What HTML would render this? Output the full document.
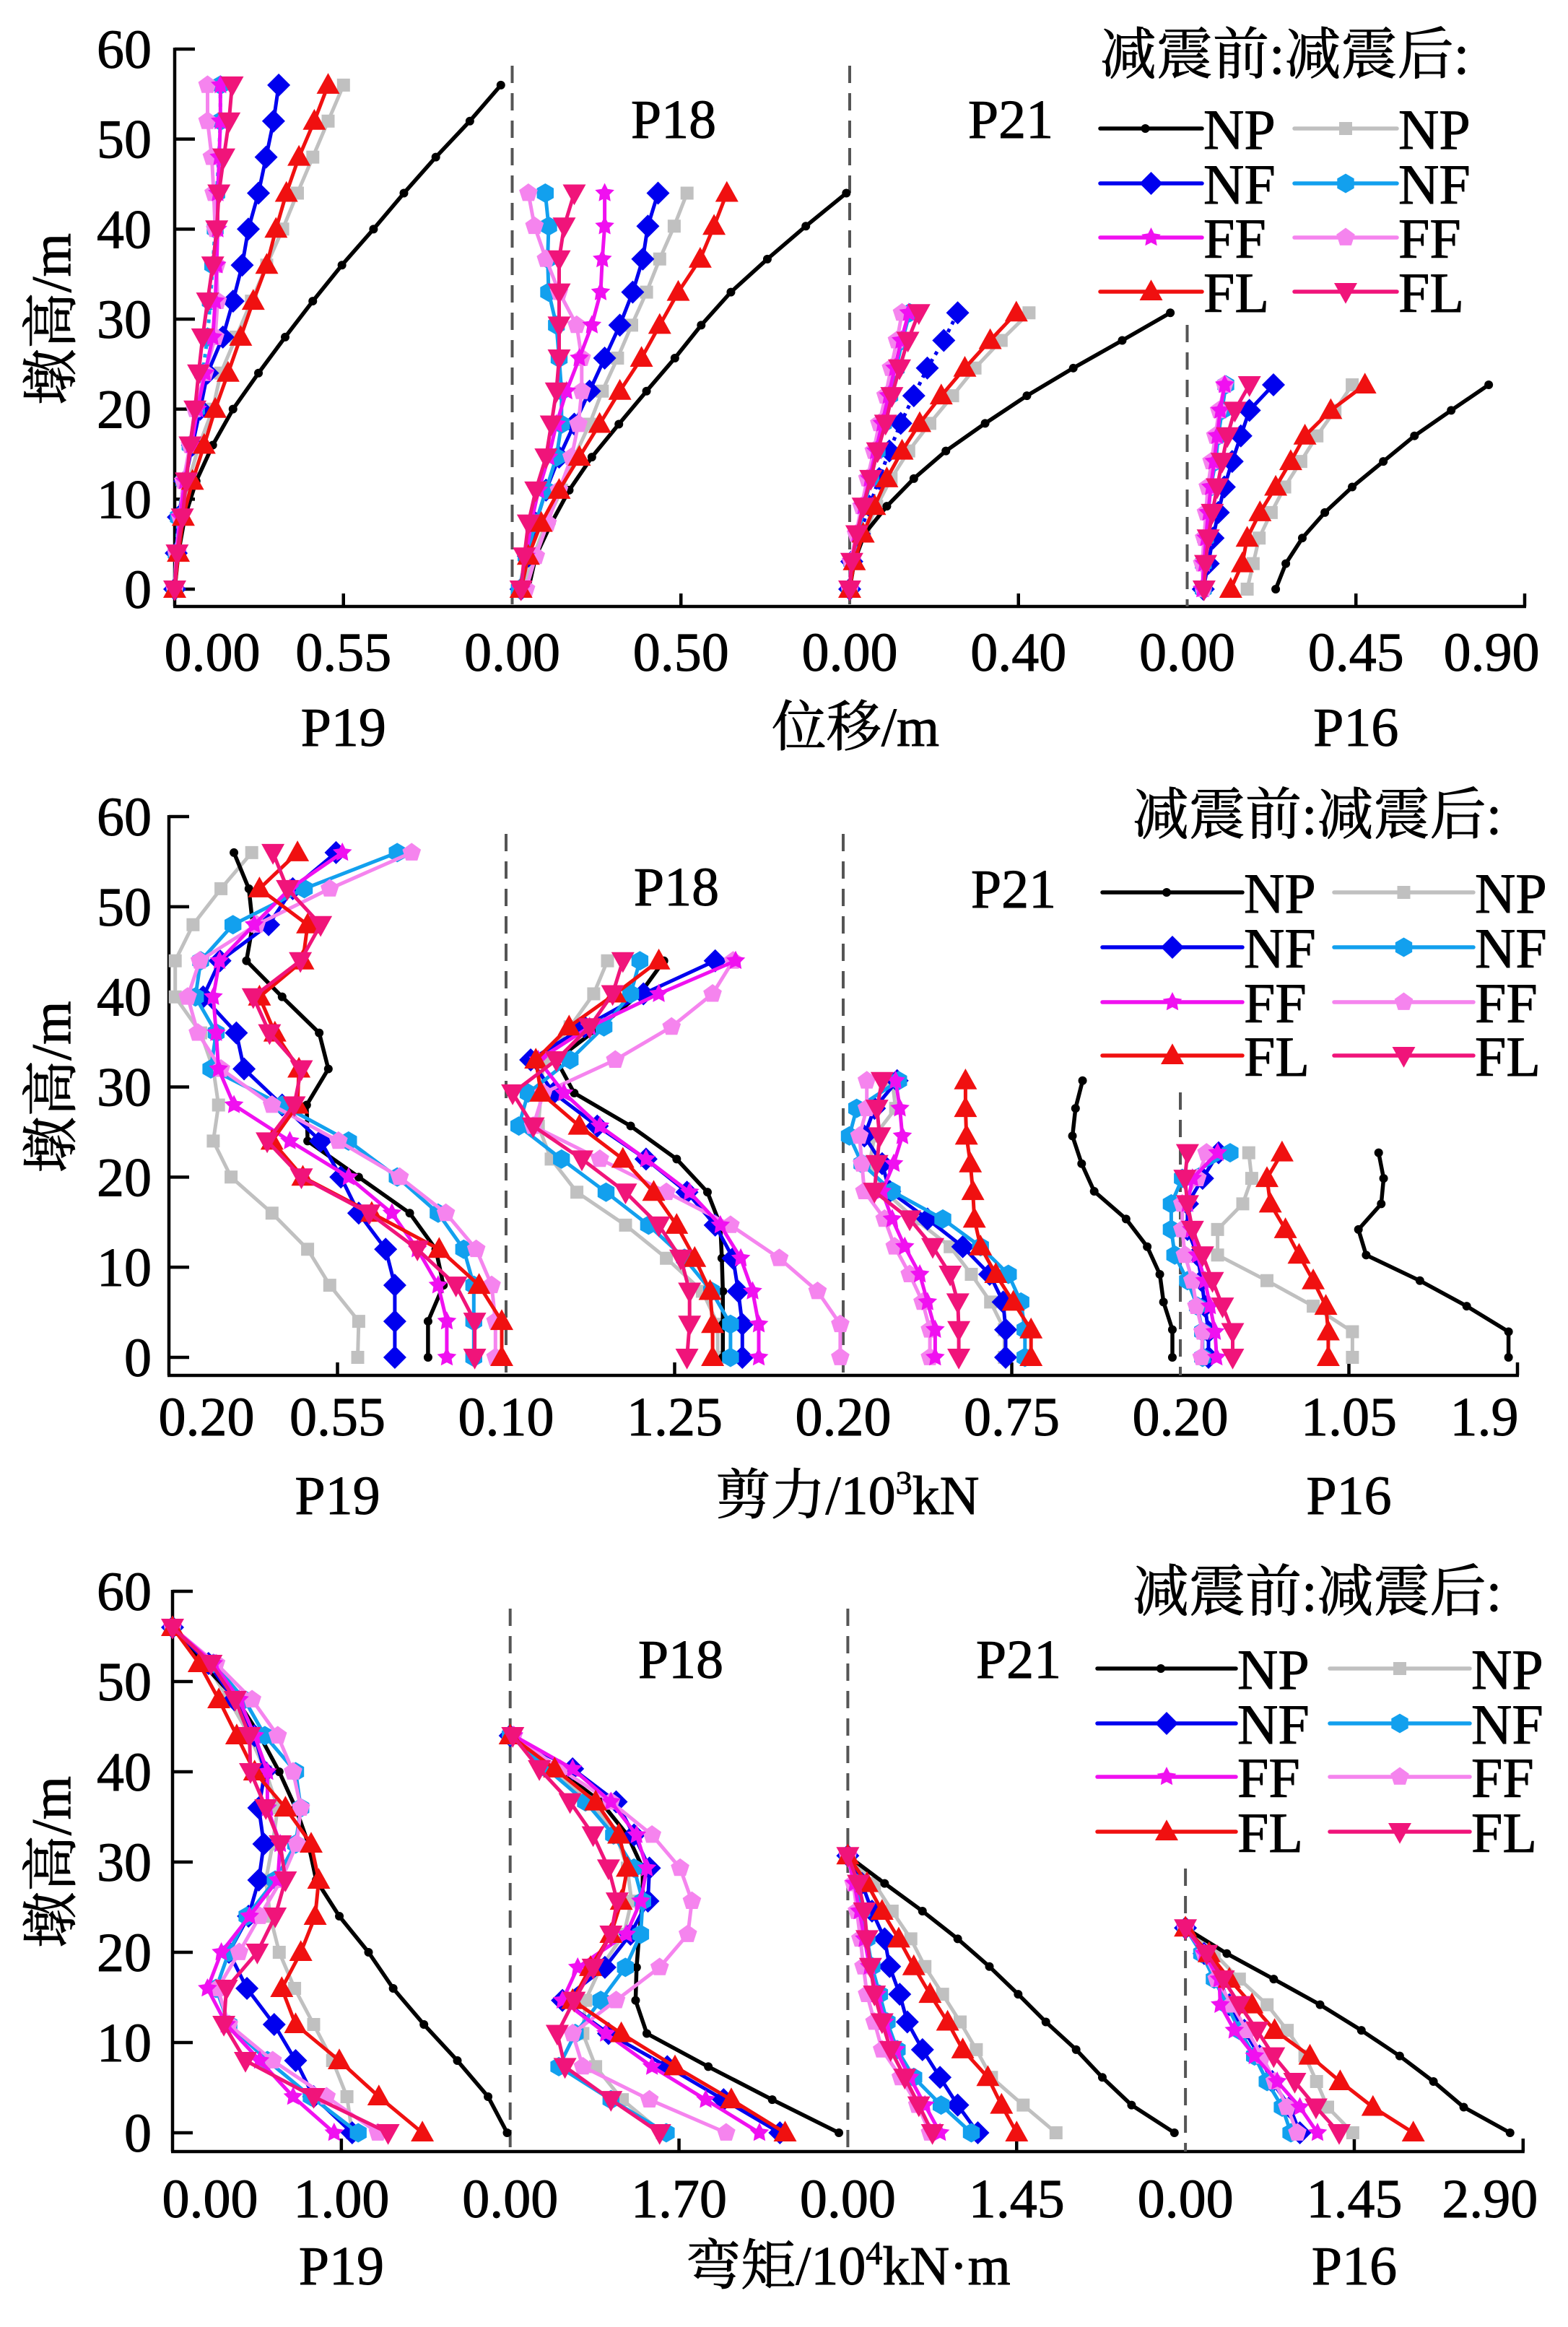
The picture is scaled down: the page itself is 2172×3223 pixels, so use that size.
<!DOCTYPE html>
<html><head><meta charset="utf-8"><title>Pier response profiles</title>
<style>
html,body{margin:0;padding:0;background:#fff;}
svg{display:block;}
text{font-family:"Liberation Serif","Noto Serif CJK SC",serif;fill:#000;stroke:#000;stroke-width:0.9px;}
</style></head>
<body>
<svg id="chart" xmlns="http://www.w3.org/2000/svg" width="2172" height="3223" viewBox="0 0 2172 3223"></svg>
<script>
// ---------- heights (m) ----------
const H19=[0,4,8,12,16,20,24,28,32,36,40,44,48,52,56];
const H18=[0,3.67,7.33,11,14.67,18.33,22,25.67,29.33,33,36.67,40.33,44];
const H21=[0,3.07,6.14,9.21,12.28,15.35,18.42,21.49,24.56,27.63,30.7];
const H16=[0,2.84,5.68,8.51,11.35,14.19,17.03,19.86,22.7];
const piers=['P19','P18','P21','P16'];
const seriesKeys=['NPa','NP','NF','NFa','FFa','FF','FL','FLa'];
const legendLabels=['NP','NF','FF','FL'];

// ---------- displacement (m) ----------
const dP19_NP=[0,0.012,0.033,0.07,0.124,0.19,0.273,0.36,0.45,0.545,0.648,0.747,0.851,0.962,1.063];
const dP19_NPa=[0,0.012,0.025,0.045,0.08,0.124,0.15,0.2,0.25,0.30,0.352,0.40,0.45,0.50,0.55];
const dP19_NF=[0,0.005,0.012,0.033,0.058,0.083,0.107,0.157,0.19,0.22,0.24,0.273,0.298,0.322,0.339];
const dP19_NFa=[0,0.005,0.012,0.03,0.05,0.071,0.091,0.107,0.116,0.124,0.132,0.137,0.144,0.149,0.149];
const dP19_FF=[0,0.008,0.017,0.033,0.055,0.074,0.099,0.124,0.132,0.137,0.14,0.14,0.145,0.149,0.149];
const dP19_FFa=[0,0.005,0.017,0.028,0.05,0.066,0.099,0.132,0.14,0.137,0.132,0.127,0.121,0.107,0.107];
const dP19_FL=[0,0.012,0.028,0.058,0.096,0.132,0.174,0.215,0.256,0.30,0.33,0.364,0.405,0.455,0.50];
const dP19_FLa=[0,0.008,0.025,0.038,0.05,0.066,0.078,0.091,0.107,0.124,0.137,0.144,0.16,0.177,0.187];
const dP18_NP=[0.048,0.07,0.116,0.169,0.236,0.316,0.398,0.482,0.56,0.648,0.756,0.87,0.99];
const dP18_NPa=[0.033,0.063,0.1,0.146,0.184,0.229,0.267,0.312,0.354,0.398,0.437,0.48,0.518];
const dP18_NF=[0.026,0.048,0.07,0.1,0.139,0.184,0.229,0.274,0.319,0.357,0.387,0.402,0.432];
const dP18_NFa=[0.021,0.041,0.07,0.1,0.131,0.146,0.146,0.139,0.131,0.108,0.105,0.108,0.098];
const dP18_FF=[0.026,0.041,0.056,0.078,0.108,0.131,0.161,0.199,0.236,0.262,0.267,0.274,0.274];
const dP18_FFa=[0.041,0.07,0.105,0.139,0.176,0.196,0.206,0.206,0.191,0.139,0.1,0.066,0.048];
const dP18_FL=[0.026,0.048,0.086,0.139,0.199,0.259,0.319,0.383,0.437,0.492,0.557,0.598,0.636];
const dP18_FLa=[0.026,0.036,0.048,0.07,0.1,0.116,0.131,0.139,0.139,0.139,0.139,0.154,0.184];
const dP21_NP=[0,0.011,0.035,0.088,0.152,0.228,0.321,0.42,0.53,0.646,0.76];
const dP21_NPa=[0,0.011,0.035,0.064,0.098,0.14,0.19,0.244,0.297,0.359,0.425];
const dP21_NF=[0,0.005,0.023,0.047,0.07,0.094,0.121,0.152,0.184,0.223,0.256];
const dP21_NFa=[0,0.005,0.02,0.035,0.05,0.065,0.08,0.095,0.11,0.125,0.142];
const dP21_FF=[0,0.005,0.018,0.032,0.047,0.062,0.077,0.092,0.107,0.122,0.14];
const dP21_FFa=[0,0.003,0.015,0.028,0.042,0.057,0.07,0.085,0.098,0.112,0.124];
const dP21_FL=[0,0.011,0.032,0.059,0.088,0.124,0.166,0.217,0.273,0.333,0.395];
const dP21_FLa=[0,0.005,0.017,0.032,0.05,0.066,0.085,0.1,0.118,0.138,0.164];
const dP16_NP=[0.236,0.263,0.307,0.367,0.44,0.523,0.606,0.704,0.804];
const dP16_NPa=[0.16,0.176,0.192,0.224,0.26,0.303,0.346,0.394,0.44];
const dP16_NF=[0.043,0.056,0.069,0.083,0.099,0.12,0.143,0.166,0.23];
const dP16_NFa=[0.043,0.043,0.049,0.056,0.063,0.076,0.083,0.093,0.103];
const dP16_FF=[0.04,0.045,0.05,0.056,0.063,0.072,0.08,0.088,0.1];
const dP16_FFa=[0.043,0.04,0.045,0.05,0.055,0.065,0.075,0.085,0.1];
const dP16_FL=[0.116,0.147,0.16,0.194,0.236,0.276,0.314,0.383,0.474];
const dP16_FLa=[0.045,0.049,0.056,0.067,0.08,0.093,0.107,0.127,0.166];

// ---------- shear (10^3 kN) ----------
const sP19_NP=[0.738,0.738,0.77,0.754,0.70,0.594,0.488,0.486,0.531,0.512,0.435,0.361,0.374,0.366,0.335];
const sP19_NPa=[0.592,0.594,0.534,0.488,0.414,0.329,0.292,0.303,0.292,0.266,0.213,0.213,0.25,0.308,0.372];
const sP19_NF=[0.669,0.669,0.669,0.65,0.594,0.557,0.515,0.435,0.356,0.34,0.271,0.306,0.407,0.457,0.547];
const sP19_NFa=[0.833,0.833,0.833,0.812,0.759,0.674,0.573,0.435,0.287,0.298,0.255,0.266,0.333,0.481,0.674];
const sP19_FF=[0.777,0.777,0.759,0.716,0.663,0.573,0.451,0.335,0.303,0.298,0.292,0.305,0.377,0.451,0.56];
const sP19_FFa=[0.878,0.878,0.87,0.838,0.775,0.679,0.552,0.414,0.308,0.26,0.239,0.264,0.382,0.534,0.704];
const sP19_FL=[0.891,0.891,0.844,0.761,0.621,0.478,0.414,0.467,0.47,0.42,0.388,0.478,0.488,0.388,0.467];
const sP19_FLa=[0.835,0.835,0.796,0.716,0.616,0.475,0.404,0.46,0.475,0.409,0.375,0.473,0.515,0.446,0.416];
const sP18_NP=[1.579,1.579,1.579,1.572,1.562,1.474,1.264,0.95,0.565,0.443,0.74,1.013,1.177];
const sP18_NPa=[1.544,1.544,1.439,1.194,0.915,0.583,0.408,0.32,0.338,0.355,0.537,0.698,0.792];
const sP18_NF=[1.712,1.712,1.684,1.649,1.527,1.334,1.055,0.722,0.425,0.268,0.635,1.037,1.527];
const sP18_NFa=[1.631,1.631,1.502,1.317,1.072,0.782,0.478,0.187,0.25,0.537,0.768,0.95,1.013];
const sP18_FF=[1.824,1.824,1.782,1.701,1.562,1.352,1.055,0.74,0.495,0.32,0.67,1.142,1.666];
const sP18_FFa=[2.38,2.38,2.225,1.964,1.631,1.194,0.74,0.285,0.355,0.845,1.229,1.509,1.649];
const sP18_FL=[1.509,1.509,1.492,1.387,1.264,1.107,0.897,0.6,0.338,0.303,0.53,0.845,1.142];
const sP18_FLa=[1.334,1.352,1.352,1.292,1.142,0.915,0.617,0.285,0.145,0.443,0.67,0.827,0.897];
const sP21_NP=[1.274,1.274,1.245,1.233,1.192,1.123,1.019,0.978,0.948,0.958,0.981];
const sP21_NPa=[0.726,0.726,0.681,0.618,0.549,0.434,0.335,0.286,0.302,0.371,0.36];
const sP21_NF=[0.73,0.73,0.722,0.678,0.59,0.475,0.352,0.327,0.269,0.302,0.376];
const sP21_NFa=[0.793,0.793,0.78,0.739,0.648,0.525,0.36,0.261,0.22,0.244,0.381];
const sP21_FF=[0.5,0.5,0.475,0.45,0.401,0.36,0.327,0.365,0.393,0.385,0.371];
const sP21_FFa=[0.483,0.483,0.459,0.417,0.368,0.335,0.269,0.261,0.253,0.277,0.277];
const sP21_FL=[0.813,0.813,0.755,0.698,0.648,0.628,0.623,0.615,0.602,0.599,0.599];
const sP21_FLa=[0.577,0.577,0.574,0.549,0.492,0.417,0.302,0.31,0.319,0.31,0.327];
const sP16_NP=[1.855,1.855,1.644,1.408,1.137,1.098,1.213,1.225,1.2];
const sP16_NPa=[1.068,1.068,0.87,0.637,0.388,0.388,0.515,0.56,0.545];
const sP16_NF=[0.342,0.342,0.324,0.307,0.286,0.236,0.236,0.312,0.393];
const sP16_NFa=[0.312,0.312,0.286,0.236,0.172,0.154,0.154,0.21,0.451];
const sP16_FF=[0.383,0.375,0.35,0.324,0.286,0.256,0.236,0.261,0.388];
const sP16_FFa=[0.307,0.312,0.281,0.261,0.223,0.21,0.21,0.286,0.332];
const sP16_FL=[0.946,0.946,0.934,0.87,0.799,0.73,0.654,0.637,0.713];
const sP16_FLa=[0.464,0.464,0.413,0.362,0.312,0.261,0.236,0.223,0.236];

// ---------- moment (10^4 kN·m) ----------
const mP19_NP=[1.982,1.869,1.687,1.489,1.307,1.161,0.988,0.851,0.805,0.729,0.632,0.517,0.38,0.176,0];
const mP19_NPa=[1.064,1.033,0.948,0.836,0.723,0.632,0.578,0.553,0.593,0.623,0.553,0.456,0.334,0.198,0];
const mP19_NF=[1.064,0.836,0.729,0.602,0.441,0.334,0.45,0.511,0.541,0.511,0.547,0.486,0.365,0.213,0];
const mP19_NFa=[1.1,0.821,0.562,0.334,0.258,0.334,0.441,0.608,0.729,0.76,0.729,0.547,0.426,0.243,0];
const mP19_FF=[0.957,0.714,0.517,0.319,0.207,0.289,0.456,0.623,0.638,0.562,0.562,0.486,0.395,0.243,0];
const mP19_FFa=[1.216,0.912,0.593,0.334,0.267,0.395,0.517,0.644,0.736,0.76,0.714,0.623,0.471,0.258,0];
const mP19_FL=[1.48,1.222,0.988,0.729,0.647,0.76,0.845,0.866,0.821,0.669,0.486,0.38,0.274,0.158,0];
const mP19_FLa=[1.277,0.836,0.432,0.304,0.319,0.502,0.608,0.669,0.638,0.553,0.462,0.456,0.371,0.228,0];
const mP18_NP=[3.31,2.639,1.995,1.376,1.263,1.273,1.299,1.335,1.335,1.18,0.912,0.474,0];
const mP18_NPa=[1.531,1.129,0.861,0.732,0.758,0.912,1.144,1.222,1.18,1.067,0.809,0.423,0];
const mP18_NF=[2.716,2.149,1.582,0.99,0.526,0.954,1.211,1.387,1.402,1.247,1.067,0.629,0];
const mP18_NFa=[1.572,1.015,0.49,0.655,0.912,1.16,1.314,1.335,1.247,1.041,0.758,0.371,0];
const mP18_FF=[2.51,1.969,1.428,0.964,0.526,0.68,1.17,1.314,1.376,1.273,1.015,0.629,0.036];
const mP18_FFa=[2.175,1.402,0.732,0.629,1.067,1.505,1.789,1.83,1.711,1.428,1.015,0.5,0.036];
const mP18_FL=[2.768,2.227,1.66,1.119,0.629,0.809,1.015,1.119,1.18,1.093,0.861,0.448,0];
const mP18_FLa=[1.505,1.015,0.552,0.474,0.644,0.835,1.015,1.077,0.99,0.835,0.603,0.294,0.026];
const mP21_NP=[2.805,2.437,2.186,1.961,1.701,1.463,1.216,0.944,0.641,0.316,0];
const mP21_NPa=[1.788,1.506,1.234,1.104,0.965,0.814,0.662,0.541,0.381,0.229,0];
const mP21_NF=[1.117,0.944,0.792,0.641,0.511,0.446,0.359,0.316,0.208,0.121,0];
const mP21_NFa=[1.061,0.801,0.567,0.424,0.338,0.273,0.208,0.165,0.121,0.078,0];
const mP21_FF=[0.792,0.662,0.532,0.411,0.316,0.251,0.186,0.143,0.1,0.056,0];
const mP21_FFa=[0.706,0.597,0.455,0.294,0.229,0.165,0.134,0.108,0.078,0.048,0];
const mP21_FL=[1.45,1.32,1.203,0.987,0.857,0.706,0.567,0.437,0.294,0.165,0];
const mP21_FLa=[0.727,0.61,0.489,0.368,0.294,0.229,0.195,0.165,0.143,0.091,0];
const mP16_NP=[2.788,2.39,2.13,1.84,1.511,1.156,0.758,0.355,0];
const mP16_NPa=[1.437,1.221,1.126,1.026,0.874,0.701,0.463,0.247,0];
const mP16_NF=[0.983,0.896,0.745,0.636,0.506,0.377,0.29,0.16,0];
const mP16_NFa=[0.905,0.831,0.701,0.593,0.463,0.355,0.247,0.139,0];
const mP16_FF=[1.134,0.983,0.788,0.593,0.42,0.299,0.29,0.16,0];
const mP16_FFa=[0.961,0.874,0.766,0.658,0.528,0.398,0.268,0.16,0];
const mP16_FL=[1.957,1.61,1.329,1.069,0.766,0.571,0.377,0.203,0];
const mP16_FLa=[1.32,1.121,0.939,0.758,0.615,0.463,0.325,0.182,0];

// ---------- axis tick labels ----------
const dispTicks=['0.00','0.55','0.00','0.50','0.00','0.40','0.00','0.45','0.90'];
const shearTicks=['0.20','0.55','0.10','1.25','0.20','0.75','0.20','1.05','1.9'];
const momentTicks=['0.00','1.00','0.00','1.70','0.00','1.45','0.00','1.45','2.90'];
const dispRanges=[[0,1.1],[0,1.0],[0,0.8],[0,0.9]];
const shearRanges=[[0.2,0.9],[0.1,2.4],[0.2,1.3],[0.2,1.9]];
const momentRanges=[[0,2.0],[0,3.4],[0,2.9],[0,2.9]];
const yTicks=[0,10,20,30,40,50,60];

const heightsByPier={P19:H19,P18:H18,P21:H21,P16:H16};
const store={
 d:{P19:{NP:dP19_NP,NPa:dP19_NPa,NF:dP19_NF,NFa:dP19_NFa,FF:dP19_FF,FFa:dP19_FFa,FL:dP19_FL,FLa:dP19_FLa},
    P18:{NP:dP18_NP,NPa:dP18_NPa,NF:dP18_NF,NFa:dP18_NFa,FF:dP18_FF,FFa:dP18_FFa,FL:dP18_FL,FLa:dP18_FLa},
    P21:{NP:dP21_NP,NPa:dP21_NPa,NF:dP21_NF,NFa:dP21_NFa,FF:dP21_FF,FFa:dP21_FFa,FL:dP21_FL,FLa:dP21_FLa},
    P16:{NP:dP16_NP,NPa:dP16_NPa,NF:dP16_NF,NFa:dP16_NFa,FF:dP16_FF,FFa:dP16_FFa,FL:dP16_FL,FLa:dP16_FLa}},
 s:{P19:{NP:sP19_NP,NPa:sP19_NPa,NF:sP19_NF,NFa:sP19_NFa,FF:sP19_FF,FFa:sP19_FFa,FL:sP19_FL,FLa:sP19_FLa},
    P18:{NP:sP18_NP,NPa:sP18_NPa,NF:sP18_NF,NFa:sP18_NFa,FF:sP18_FF,FFa:sP18_FFa,FL:sP18_FL,FLa:sP18_FLa},
    P21:{NP:sP21_NP,NPa:sP21_NPa,NF:sP21_NF,NFa:sP21_NFa,FF:sP21_FF,FFa:sP21_FFa,FL:sP21_FL,FLa:sP21_FLa},
    P16:{NP:sP16_NP,NPa:sP16_NPa,NF:sP16_NF,NFa:sP16_NFa,FF:sP16_FF,FFa:sP16_FFa,FL:sP16_FL,FLa:sP16_FLa}},
 m:{P19:{NP:mP19_NP,NPa:mP19_NPa,NF:mP19_NF,NFa:mP19_NFa,FF:mP19_FF,FFa:mP19_FFa,FL:mP19_FL,FLa:mP19_FLa},
    P18:{NP:mP18_NP,NPa:mP18_NPa,NF:mP18_NF,NFa:mP18_NFa,FF:mP18_FF,FFa:mP18_FFa,FL:mP18_FL,FLa:mP18_FLa},
    P21:{NP:mP21_NP,NPa:mP21_NPa,NF:mP21_NF,NFa:mP21_NFa,FF:mP21_FF,FFa:mP21_FFa,FL:mP21_FL,FLa:mP21_FLa},
    P16:{NP:mP16_NP,NPa:mP16_NPa,NF:mP16_NF,NFa:mP16_NFa,FF:mP16_FF,FFa:mP16_FFa,FL:mP16_FL,FLa:mP16_FLa}}
};

const style={
 NP:{c:'#000000',m:'circle',s:12},
 NPa:{c:'#c0c0c0',m:'square',s:18},
 NF:{c:'#0000ee',m:'diamond',s:32},
 NFa:{c:'#12a0ee',m:'hexagon',s:27},
 FF:{c:'#f010f0',m:'star',s:28},
 FFa:{c:'#f584ee',m:'pentagon',s:27},
 FL:{c:'#f01010',m:'up',s:32},
 FLa:{c:'#f0147a',m:'down',s:32}
};

const panels=[
 {key:'d',x0:242,W:467.5,y60:68,y0:816,axisY:840,divTop:[91,91,450],ticks:dispTicks,ranges:dispRanges,
  tickY:929,subY:1033,title:'位移/m',titleX:1185,p18:[933,191],p21:[1400,191],
  legTitle:[1524,102],legRows:[178,254,329,404],col1:[1524,1665],col2:[1793,1935],dotted:{P19:'NFa',P21:'NF'}},
 {key:'s',x0:234,W:467,y60:1131,y0:1880,axisY:1905,divTop:[1155,1155,1513],ticks:shearTicks,ranges:shearRanges,
  tickY:1988,subY:2097,title:'剪力/10',sup:'3',tail:'kN',titleX:1174,p18:[937,1254],p21:[1404,1257],
  legTitle:[1569,1155],legRows:[1236,1312,1388,1462],col1:[1527,1721],col2:[1848,2041],dotted:{}},
 {key:'m',x0:239,W:467.7,y60:2204,y0:2954,axisY:2980,divTop:[2228,2228,2588],ticks:momentTicks,ranges:momentRanges,
  tickY:3071,subY:3164,title:'弯矩/10',sup:'4',tail:'kN·m',titleX:1175,p18:[943,2324],p21:[1411,2324],
  legTitle:[1569,2231],legRows:[2311,2387,2461,2537],col1:[1520,1712],col2:[1842,2036],dotted:{}}
];

const NS='http://www.w3.org/2000/svg';
const svg=document.getElementById('chart');
function mk(tag,attrs,parent){const e=document.createElementNS(NS,tag);for(const k in attrs)e.setAttribute(k,attrs[k]);(parent||svg).appendChild(e);return e;}
function txt(str,attrs,parent){const t=mk('text',attrs,parent);t.textContent=str;return t;}

function markerPath(type,x,y,s){
  const r=s/2;let pts=[];
  if(type==='diamond')pts=[[x,y-r],[x+r,y],[x,y+r],[x-r,y]];
  else if(type==='square')pts=[[x-r,y-r],[x+r,y-r],[x+r,y+r],[x-r,y+r]];
  else if(type==='up')pts=[[x,y-r*1.05],[x+r,y+r*0.75],[x-r,y+r*0.75]];
  else if(type==='down')pts=[[x,y+r*1.05],[x+r,y-r*0.75],[x-r,y-r*0.75]];
  else if(type==='hexagon'){for(let i=0;i<6;i++){const a=Math.PI/6+i*Math.PI/3;pts.push([x+r*Math.cos(a),y+r*Math.sin(a)]);}}
  else if(type==='pentagon'){for(let i=0;i<5;i++){const a=-Math.PI/2+i*2*Math.PI/5;pts.push([x+r*Math.cos(a),y+r*Math.sin(a)]);}}
  else if(type==='star'){for(let i=0;i<10;i++){const a=-Math.PI/2+i*Math.PI/5;const rr=i%2?r*0.5:r;pts.push([x+rr*Math.cos(a),y+rr*Math.sin(a)]);}}
  return 'M'+pts.map(p=>p[0].toFixed(1)+','+p[1].toFixed(1)).join('L')+'Z';
}
function drawMarker(key,x,y,g){
  const st=style[key];
  if(st.m==='circle'){return mk('circle',{cx:x,cy:y,r:st.s/2,fill:st.c},g);}
  return mk('path',{d:markerPath(st.m,x,y,st.s),fill:st.c},g);
}

panels.forEach((P,pi)=>{
  const g=mk('g',{});
  
  
  const yScale=h=>P.y0-h*(P.y0-P.y60)/60;
  const right=P.x0+4*P.W;
  const ya=mk('line',{x1:P.x0,y1:P.y60-2,x2:P.x0,y2:P.axisY,stroke:'#000','stroke-width':4.5},g);
  
  
  const xa=mk('line',{x1:P.x0-2,y1:P.axisY,x2:right+2,y2:P.axisY,stroke:'#000','stroke-width':4.5},g);
  
  
  yTicks.forEach(v=>{
    const y=yScale(v);
    const tk=mk('line',{x1:P.x0,y1:y,x2:P.x0+28,y2:y,stroke:'#000','stroke-width':4.5},g);
    
    
    const tl=txt(String(v),{x:210,y:y+26,'font-size':76,'text-anchor':'end'},g);
    
    
  });
  const yl=txt('墩高/m',{transform:`translate(70,${(P.y60+P.y0)/2}) rotate(-90)`,'font-size':78,'text-anchor':'middle',dy:'0.35em'},g);
  
  
  for(let j=1;j<4;j++){
    const x=P.x0+j*P.W;
    const dv=mk('line',{x1:x,y1:P.divTop[j-1],x2:x,y2:P.axisY,stroke:'#555','stroke-width':4,'stroke-dasharray':'24 14'},g);
    
    
  }
  for(let j=0;j<4;j++){
    const xm=P.x0+j*P.W+P.W/2;
    const t=mk('line',{x1:xm,y1:P.axisY,x2:xm,y2:P.axisY-18,stroke:'#000','stroke-width':4.5},g);
    
    
  }
  const te=mk('line',{x1:right,y1:P.axisY,x2:right,y2:P.axisY-18,stroke:'#000','stroke-width':4.5},g);
  
  
  P.ticks.forEach((lab,i)=>{
    let x;
    if(i===8)x=right-46;
    else{const j=Math.floor(i/2);x=P.x0+j*P.W+(i%2?P.W/2:0);if(i===0)x+=52;}
    const tl=txt(lab,{x:x,y:P.tickY,'font-size':76,'text-anchor':'middle'},g);
    
    
  });
  const s1=txt('P19',{x:P.x0+P.W/2,y:P.subY,'font-size':76,'text-anchor':'middle'},g);
  
  
  const s4=txt('P16',{x:P.x0+3.5*P.W,y:P.subY,'font-size':76,'text-anchor':'middle'},g);
  
  
  const xt=txt('',{x:P.titleX,y:P.subY,'font-size':76,'text-anchor':'middle'},g);
  
  
  if(P.sup){
    const a=mk('tspan',{},xt);a.textContent=P.title;
    const b=mk('tspan',{dy:-28,'font-size':46},xt);b.textContent=P.sup;
    const c=mk('tspan',{dy:28},xt);c.textContent=P.tail;
  } else xt.textContent=P.title;
  const s2=txt('P18',{x:P.p18[0],y:P.p18[1],'font-size':76,'text-anchor':'middle'},g);
  
  
  const s3=txt('P21',{x:P.p21[0],y:P.p21[1],'font-size':76,'text-anchor':'middle'},g);
  
  
  piers.forEach((pier,j)=>{
    const [lo,hi]=P.ranges[j];
    const xs=v=>P.x0+j*P.W+(v-lo)/(hi-lo)*P.W;
    const hs=heightsByPier[pier];
    seriesKeys.forEach(k=>{
      const vals=store[P.key][pier][k];
      const sg=mk('g',{},g);
      
      
      const pts=vals.map((v,i)=>xs(v).toFixed(1)+','+yScale(hs[i]).toFixed(1)).join(' ');
      const attrs={points:pts,fill:'none',stroke:style[k].c,'stroke-width':k==='NP'?5.5:5,'stroke-linejoin':'round'};
      if(P.dotted[pier]===k)attrs['stroke-dasharray']='5 7';
      const pl=mk('polyline',attrs,sg);
      
      
      vals.forEach((v,i)=>{
        const mkr=drawMarker(k,xs(v),yScale(hs[i]),sg);
        
        
      });
    });
  });
  const lg=mk('g',{},g);
  
  
  const lt=txt('减震前:减震后:',{x:P.legTitle[0],y:P.legTitle[1],'font-size':78},lg);
  
  
  const before=['NP','NF','FF','FL'],after=['NPa','NFa','FFa','FLa'];
  [[before,P.col1],[after,P.col2]].forEach(([keys,col])=>{
    keys.forEach((k,r)=>{
      const y=P.legRows[r];
      const eg=mk('g',{},lg);
      
      
      mk('line',{x1:col[0],y1:y,x2:col[1],y2:y,stroke:style[k].c,'stroke-width':5.5,'stroke-linecap':'round'},eg);
      drawMarker(k,(col[0]+col[1])/2+(k==='NP'?-8:0),y,eg);
      const t=txt(legendLabels[r],{x:col[1]+2,y:y+28,'font-size':78},eg);
      
      
    });
  });
});
</script>
</body></html>
